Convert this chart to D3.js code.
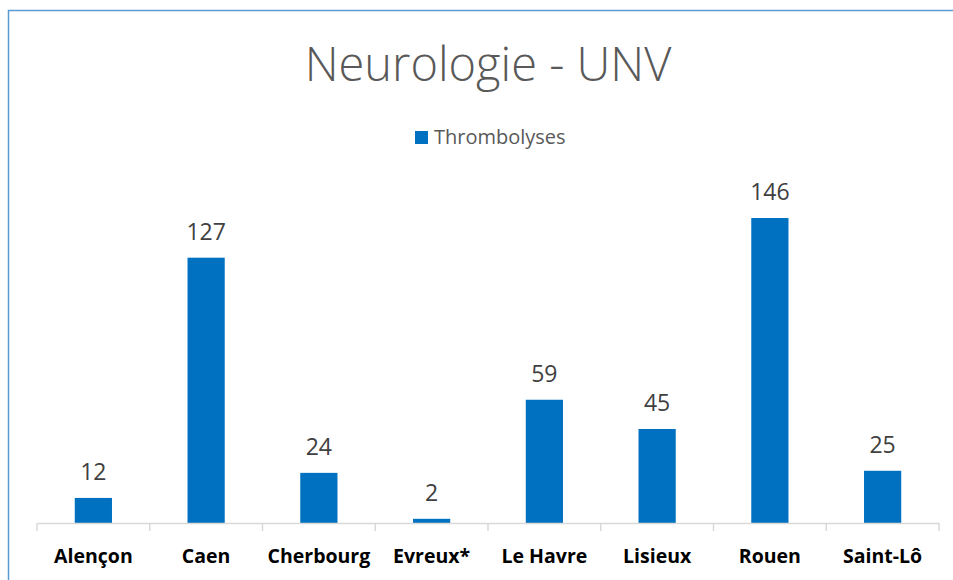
<!DOCTYPE html>
<html><head><meta charset="utf-8">
<script src="https://cdn.jsdelivr.net/npm/d3@7"></script>
<style>body{margin:0;background:#fff}svg{display:block}</style>
</head><body>
<script>
const categories = ["Alençon","Caen","Cherbourg","Evreux*","Le Havre","Lisieux","Rouen","Saint-Lô"];
const values = [12,127,24,2,59,45,146,25];
const seriesName = "Thrombolyses";
const title = "Neurologie - UNV";

const W = 953, H = 580;
const svg = d3.select("body").append("svg").attr("width", W).attr("height", H);
const font = "'Open Sans', 'Noto Sans', sans-serif";

// border
svg.append("path").attr("d", `M8.5,${H} L8.5,10.5 L${W},10.5`).attr("fill","none").attr("stroke","#5B9BD5").attr("stroke-width",1.5);

const x = d3.scaleBand().domain(categories).range([37, 939]).paddingInner(0.67).paddingOuter(0.335);
const y = d3.scaleLinear().domain([0, 146]).range([523, 218]);

svg.append("text").attr("x", 488).attr("y", 81).attr("text-anchor","middle")
  .attr("font-family", font).attr("font-weight",300).attr("font-size", 47).attr("fill","#595959").text(title);

svg.append("rect").attr("x",415).attr("y",131).attr("width",13).attr("height",13).attr("fill","#0070C0");
svg.append("text").attr("x",434).attr("y",144).attr("font-family",font).attr("font-size",20).attr("fill","#595959").text(seriesName);

svg.selectAll("rect.bar").data(values).join("rect").attr("class","bar")
  .attr("x",(d,i)=>x(categories[i])).attr("width",x.bandwidth())
  .attr("y",d=>y(d)).attr("height",d=>y(0)-y(d)).attr("fill","#0070C0");

svg.selectAll("text.val").data(values).join("text").attr("class","val")
  .attr("x",(d,i)=>x(categories[i])+x.bandwidth()/2).attr("y",d=>y(d)-18)
  .attr("text-anchor","middle").attr("font-family",font).attr("font-size",23).attr("fill","#404040").text(d=>d);

const xAxis = d3.axisBottom(x).tickSize(0).tickFormat(d=>d);
const ax = svg.append("g").attr("transform","translate(0,523)").call(xAxis);
ax.select(".domain").attr("stroke","#D9D9D9").attr("stroke-width",1.5);
ax.selectAll("text").attr("font-family",font).attr("font-weight",700).attr("font-size",19.5).attr("fill","#000").attr("dy",0).attr("y",40);
// boundary ticks
const step = x.step();
const bounds = d3.range(categories.length+1).map(i=>37+i*step);
svg.append("g").selectAll("line").data(bounds).join("line")
  .attr("x1",d=>d).attr("x2",d=>d).attr("y1",523).attr("y2",531).attr("stroke","#D9D9D9").attr("stroke-width",1.5);
</script>
</body></html>
